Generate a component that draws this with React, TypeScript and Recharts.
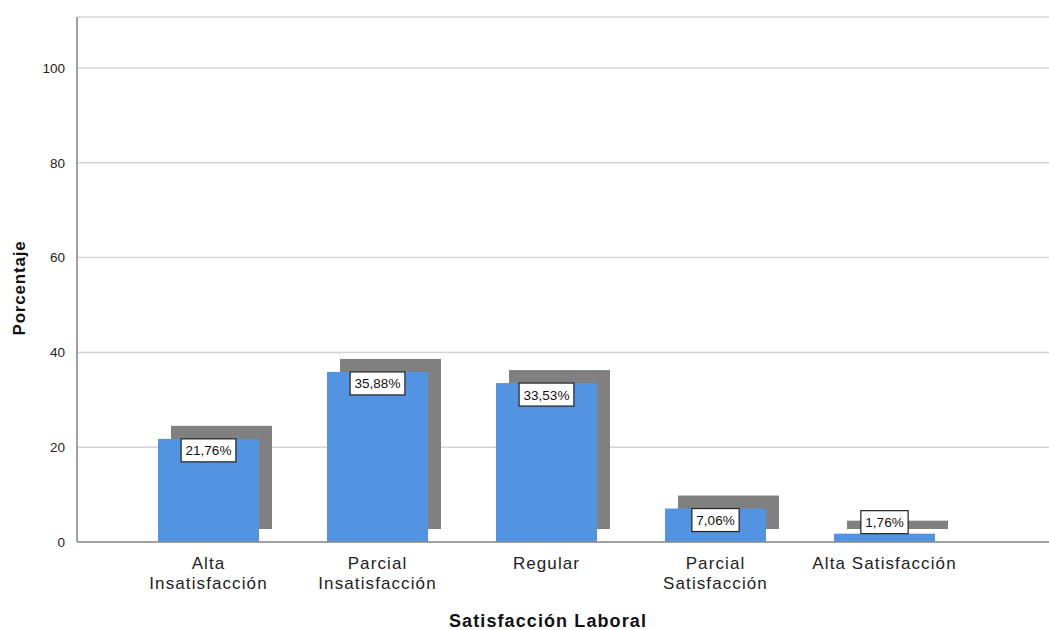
import { Bar, BarChart, CartesianGrid, LabelList, XAxis, YAxis } from "recharts";

const CATEGORIES = [
  "Alta Insatisfacción",
  "Parcial Insatisfacción",
  "Regular",
  "Parcial Satisfacción",
  "Alta Satisfacción",
];
const TICK_LINES = [
  ["Alta", "Insatisfacción"],
  ["Parcial", "Insatisfacción"],
  ["Regular"],
  ["Parcial", "Satisfacción"],
  ["Alta Satisfacción"],
];
const PERCENTAGES = [21.76, 35.88, 33.53, 7.06, 1.76];
const Y_TICKS = [0, 20, 40, 60, 80, 100];

const FONT = '"Liberation Sans", Arial, sans-serif';
const BAR_BLUE = "#5394e2";
const SHADOW = "#808080";
const SHADOW_OFFSET = 13;

const data = CATEGORIES.map((name, i) => ({ name, value: PERCENTAGES[i] }));

const fmt = (v: number) => v.toFixed(2).replace(".", ",") + "%";

// rough Arial advance widths (em) for the label box
const charWidth = (c: string) => (c === "," ? 0.278 : c === "%" ? 0.889 : 0.556);
const textWidth = (s: string, size: number) =>
  s.split("").reduce((w, c) => w + charWidth(c) * size, 0);

function ShadowBar(props: any) {
  const { x, y, width, height } = props;
  return (
    <g>
      <rect x={x + SHADOW_OFFSET} y={y - SHADOW_OFFSET} width={width} height={height} fill={SHADOW} />
      <rect x={x} y={y} width={width} height={height} fill={BAR_BLUE} />
    </g>
  );
}

function ValueBox(props: any) {
  const { x, y, width, height, value } = props;
  const text = fmt(value);
  const size = 13.5;
  const boxW = textWidth(text, size) + 9;
  const boxH = 23;
  const cx = x + width / 2;
  const top = height >= boxH ? y : y - boxH;
  return (
    <g>
      <rect x={cx - boxW / 2} y={top} width={boxW} height={boxH} fill="#fff" stroke="#222" strokeWidth={1.2} />
      <text x={cx} y={top + boxH / 2 + 5} textAnchor="middle" fontSize={size} fontFamily={FONT} fill="#111">
        {text}
      </text>
    </g>
  );
}

function CategoryTick(props: any) {
  const { x, y, index } = props;
  const lines = TICK_LINES[index] ?? [];
  return (
    <text x={x} y={y} textAnchor="middle" fontSize={17} fontFamily={FONT} fill="#222" letterSpacing={1.1}>
      {lines.map((l, i) => (
        <tspan key={i} x={x} dy={i === 0 ? 19 : 20}>
          {l}
        </tspan>
      ))}
    </text>
  );
}

const XTitle = () => (
  <text x={548} y={627} textAnchor="middle" fontFamily={FONT} fontSize={18} fontWeight="bold" fill="#111" letterSpacing={1.1}>
    Satisfacción Laboral
  </text>
);

const YTitle = () => (
  <text
    transform="translate(25, 288) rotate(-90)"
    textAnchor="middle"
    fontFamily={FONT}
    fontSize={17}
    fontWeight="bold"
    fill="#111"
    letterSpacing={0.8}
  >
    Porcentaje
  </text>
);

export default function App() {
  return (
    <div style={{ position: "absolute", left: 0, top: 0, background: "#fff" }}>
      <BarChart width={1049} height={630} data={data} margin={{ top: 17, right: 0, left: 0, bottom: 0 }}>
        <CartesianGrid horizontal vertical={false} stroke="#d4d4d4" strokeWidth={1.5} />
        <XAxis
          dataKey="name"
          height={88}
          padding={{ left: 47, right: 80 }}
          axisLine={{ stroke: "#8c8c8c", strokeWidth: 1.5 }}
          tickLine={false}
          interval={0}
          tick={<CategoryTick />}
          label={{ content: <XTitle /> }}
        />
        <YAxis
          width={77}
          domain={[0, 110.76]}
          ticks={Y_TICKS}
          allowDataOverflow
          axisLine={{ stroke: "#a0a0a0", strokeWidth: 2 }}
          tickLine={false}
          tick={{ fontSize: 13.5, fontFamily: FONT, fill: "#222" }}
          tickMargin={6}
          label={{ content: <YTitle /> }}
        />
        <Bar dataKey="value" barSize={101} shape={<ShadowBar />} isAnimationActive={false}>
          <LabelList dataKey="value" content={<ValueBox />} />
        </Bar>
      </BarChart>
    </div>
  );
}
